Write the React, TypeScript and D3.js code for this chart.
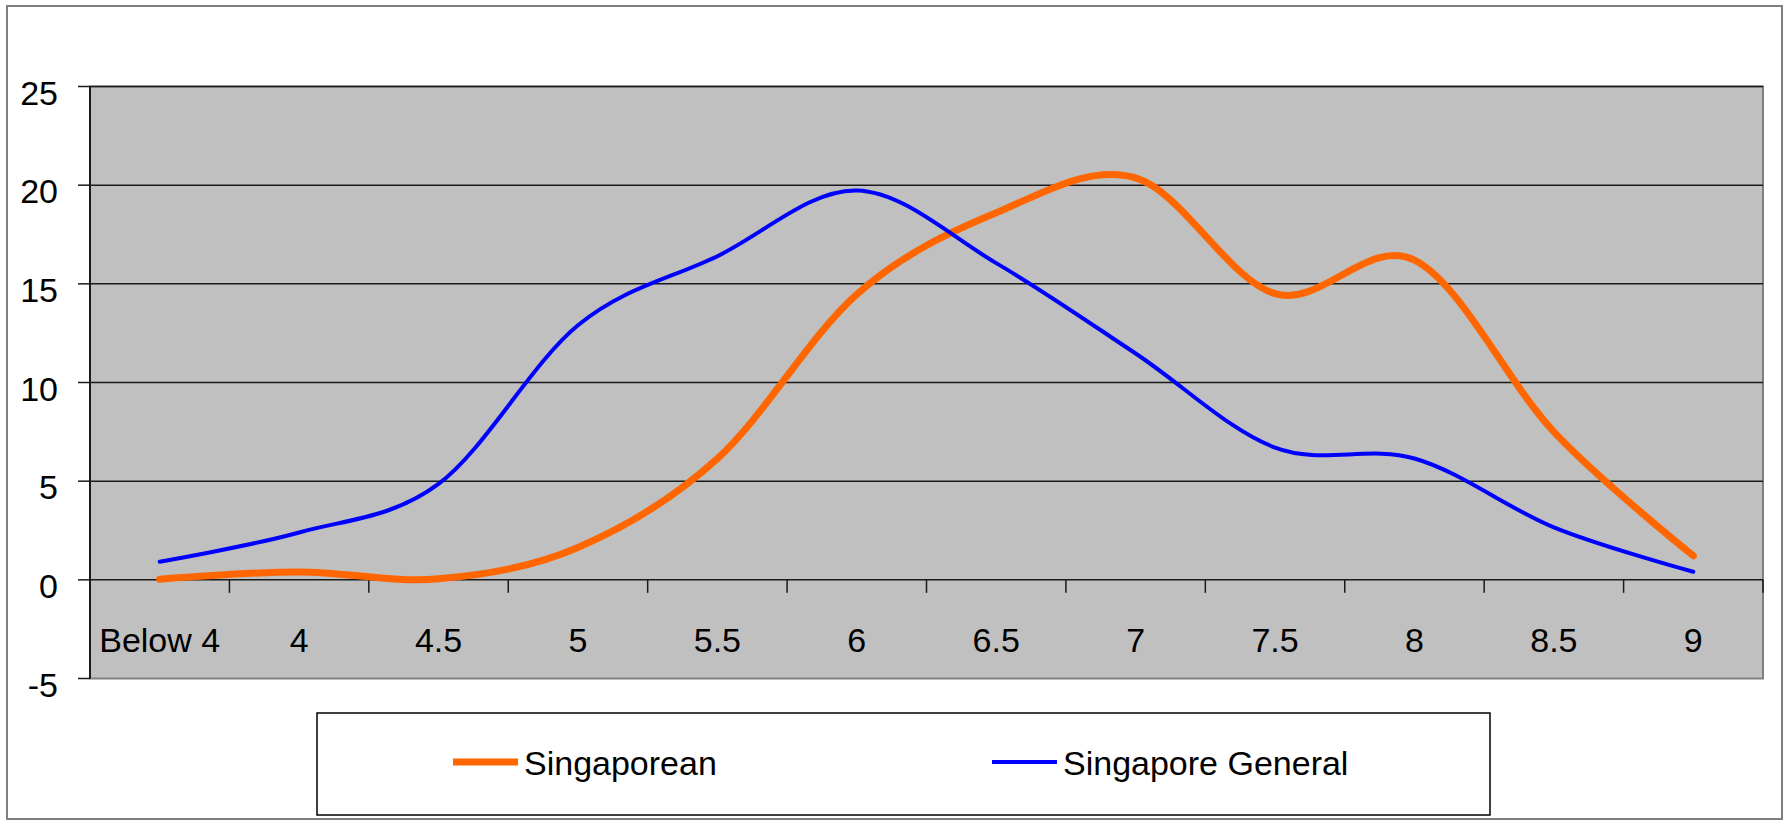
import React from "react";
import * as d3 from "d3";

const categories = ["Below 4", "4", "4.5", "5", "5.5", "6", "6.5", "7", "7.5", "8", "8.5", "9"];
const singaporean = [0.03, 0.4, 0.05, 1.64, 6.14, 14.47, 18.6, 20.37, 14.5, 16.2, 7.5, 1.22];
const singaporeGeneral = [0.92, 2.4, 4.86, 12.9, 16.4, 19.73, 16.05, 11.47, 6.7, 6.15, 2.66, 0.41];
const yTicks = [-5, 0, 5, 10, 15, 20, 25];
const seriesNames = ["Singaporean", "Singapore General"];

const W = 1789;
const H = 825;
const plot = { left: 90, right: 1763, top: 86.5, bottom: 678.5 };
const FONT = "'Liberation Sans', Arial, sans-serif";
const ORANGE = "#FF6600";
const BLUE = "#0000FF";

export default function App() {
  const x = d3.scaleBand<string>().domain(categories).range([plot.left, plot.right]).padding(0);
  const y = d3.scaleLinear().domain([-5, 25]).range([plot.bottom, plot.top]);
  const cx = (c: string) => (x(c) as number) + x.bandwidth() / 2;

  const line = d3
    .line<number>()
    .x((_, i) => cx(categories[i]))
    .y((d) => y(d))
    .curve(d3.curveCatmullRom.alpha(0));

  const boundaries = categories.slice(1).map((c) => x(c) as number);

  return (
    <svg
      width={W}
      height={H}
      style={{ position: "absolute", left: 0, top: 0, background: "#fff" }}
      fontFamily={FONT}
    >
      <rect x={7} y={6} width={1775} height={813} fill="#fff" stroke="#7f7f7f" strokeWidth={2} />
      {/* plot area */}
      <rect
        x={plot.left}
        y={plot.top}
        width={plot.right - plot.left}
        height={plot.bottom - plot.top}
        fill="#C0C0C0"
        stroke="#808080"
        strokeWidth={2}
      />
      {/* gridlines */}
      {yTicks
        .filter((t) => t > -5)
        .map((t) => (
          <line key={"g" + t} x1={plot.left} x2={plot.right} y1={y(t)} y2={y(t)} stroke="#1a1a1a" strokeWidth={1.5} />
        ))}
      {/* y axis */}
      <line x1={plot.left} x2={plot.left} y1={plot.top} y2={plot.bottom} stroke="#1a1a1a" strokeWidth={2} />
      {yTicks.map((t) => (
        <g key={"yt" + t}>
          <line x1={plot.left - 12} x2={plot.left} y1={y(t)} y2={y(t)} stroke="#1a1a1a" strokeWidth={1.5} />
          <text x={58} y={y(t) + 18} textAnchor="end" fontSize={34} fill="#000">
            {t}
          </text>
        </g>
      ))}
      {/* x axis ticks */}
      {boundaries.map((b, i) => (
        <line key={"xt" + i} x1={b} x2={b} y1={y(0)} y2={y(0) + 13} stroke="#1a1a1a" strokeWidth={1.5} />
      ))}
      <line x1={plot.right} x2={plot.right} y1={y(0)} y2={y(0) + 13} stroke="#1a1a1a" strokeWidth={1.5} />
      {categories.map((c) => (
        <text key={"xl" + c} x={cx(c)} y={652} textAnchor="middle" fontSize={34} fill="#000">
          {c}
        </text>
      ))}
      {/* series */}
      <path d={line(singaporean) || ""} fill="none" stroke={ORANGE} strokeWidth={7} strokeLinejoin="round" strokeLinecap="round" />
      <path d={line(singaporeGeneral) || ""} fill="none" stroke={BLUE} strokeWidth={4} strokeLinejoin="round" strokeLinecap="round" />
      {/* legend */}
      <rect x={317} y={713} width={1173} height={102} fill="#fff" stroke="#000" strokeWidth={1.5} />
      <line x1={453} x2={518} y1={762} y2={762} stroke={ORANGE} strokeWidth={7} />
      <text x={524} y={775} fontSize={34} fill="#000">
        {seriesNames[0]}
      </text>
      <line x1={992} x2={1057} y1={762} y2={762} stroke={BLUE} strokeWidth={4} />
      <text x={1063} y={775} fontSize={34} fill="#000">
        {seriesNames[1]}
      </text>
    </svg>
  );
}
